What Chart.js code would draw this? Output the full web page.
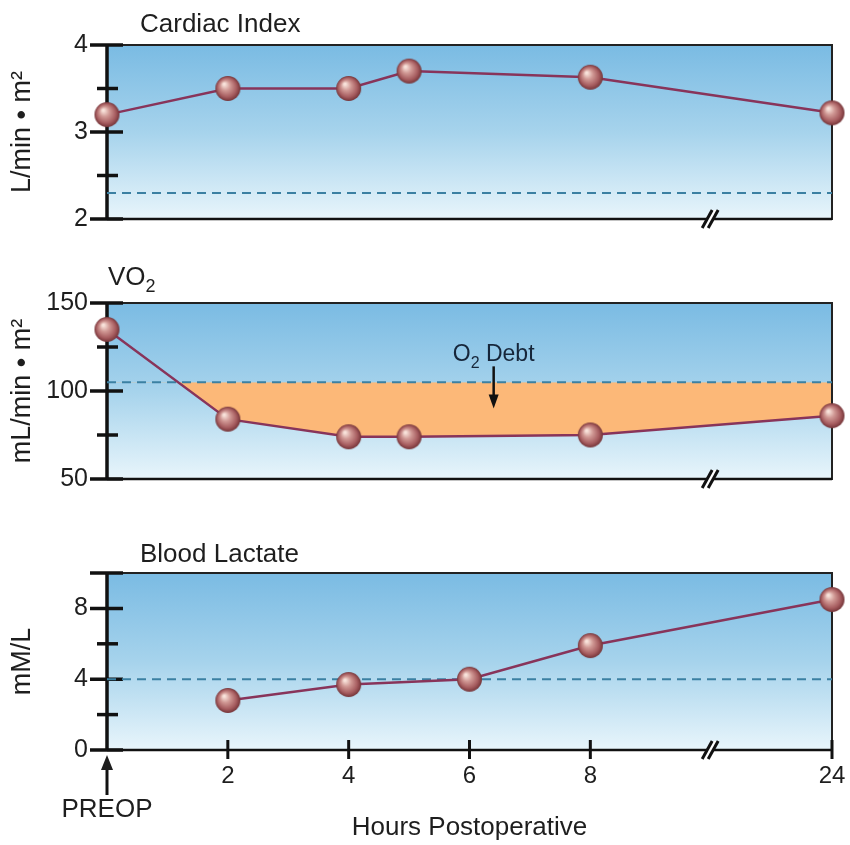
<!DOCTYPE html>
<html lang="en">

<head>
  <meta charset="UTF-8" />
  <title>Postoperative Cardiac Index, VO2 and Lactate</title>
  <script src="https://cdn.jsdelivr.net/npm/chart.js"></script>
  <style>
    html,
    body {
      margin: 0;
      padding: 0;
      background: #fff;
    }

    #wrap {
      position: relative;
      width: 850px;
      height: 845px;
    }

    #wrap canvas {
      position: absolute;
      left: 0;
    }
  </style>
</head>

<body>
  <div id="wrap">
    <canvas id="ciChart" width="850" height="245" style="top:0"></canvas>
    <canvas id="vo2Chart" width="850" height="270" style="top:245px"></canvas>
    <canvas id="lacChart" width="850" height="330" style="top:515px"></canvas>
  </div>

  <script>
    // hours after surgery (0 = preop)
    const ciHours = [0, 2, 4, 5, 8, 24];
    const cardiacIndex = [3.2, 3.5, 3.5, 3.7, 3.63, 3.22];
    const ciNormal = 2.3;

    const vo2Hours = [0, 2, 4, 5, 8, 24];
    const vo2 = [135, 84, 74, 74, 75, 86];
    const vo2Normal = 105;

    const lacHours = [2, 4, 6, 8, 24];
    const lactate = [2.8, 3.7, 4.0, 5.9, 8.5];
    const lacNormal = 4;

    const xTickHours = [2, 4, 6, 8, 24];

    const ciTicks = [2, 3, 4], ciMinor = [2.5, 3.5];
    const vo2Ticks = [50, 100, 150], vo2Minor = [75, 125];
    const lacTicks = [0, 4, 8], lacMinor = [2, 6], lacTop = 10;

    // axis is broken after 8 h, so 24 h sits 4 units further on
    const axisPos = h => (h > 8 ? 12 : h);
    const breakPos = 10;

    const FONT = "'Liberation Sans', Arial, Helvetica, sans-serif";
    const INK = '#1e1e1e';
    Chart.defaults.font.family = FONT;
    Chart.defaults.color = INK;

    // shaded ball used as point marker
    function makeBall(r) {
      const c = document.createElement('canvas');
      c.width = c.height = Math.ceil(r * 2) + 2;
      const g = c.getContext('2d');
      const m = c.width / 2;
      const grad = g.createRadialGradient(m - r * 0.3, m - r * 0.35, r * 0.08, m, m, r);
      grad.addColorStop(0, '#f8e2da');
      grad.addColorStop(0.35, '#d09894');
      grad.addColorStop(0.75, '#a65c5f');
      grad.addColorStop(1, '#743438');
      g.fillStyle = grad;
      g.beginPath();
      g.arc(m, m, r, 0, Math.PI * 2);
      g.fill();
      return c;
    }
    const ball = makeBall(12.5);

    function line(ctx, x1, y1, x2, y2) {
      ctx.beginPath();
      ctx.moveTo(x1, y1);
      ctx.lineTo(x2, y2);
      ctx.stroke();
    }

    // text runs like [['V'], ['O'], ['2', 'sub']]
    function drawRuns(ctx, runs, x, y, size, align) {
      let total = 0;
      const sized = runs.map(([t, kind]) => {
        const s = kind ? Math.round(size * 0.7) : size;
        ctx.font = s + 'px ' + FONT;
        const w = ctx.measureText(t).width;
        total += w;
        return { t, kind, s, w };
      });
      let cx = align === 'center' ? x - total / 2 : x;
      ctx.textAlign = 'left';
      ctx.textBaseline = 'alphabetic';
      sized.forEach(r => {
        ctx.font = r.s + 'px ' + FONT;
        ctx.fillText(r.t, cx, r.kind === 'sub' ? y + size * 0.28 : y);
        cx += r.w;
      });
    }

    function panelPlugin(cfg) {
      return {
        id: 'panel',
        beforeDraw(chart) {
          const { ctx, chartArea: a } = chart;
          ctx.save();
          const g = ctx.createLinearGradient(0, a.top, 0, a.bottom);
          g.addColorStop(0, '#7abbe3');
          g.addColorStop(0.5, '#a6d3ec');
          g.addColorStop(1, '#e8f5fb');
          ctx.fillStyle = g;
          ctx.fillRect(a.left, a.top, a.right - a.left, a.bottom - a.top);

          ctx.fillStyle = INK;
          drawRuns(ctx, cfg.title, cfg.titleX, a.top - cfg.titleGap, 26);
          ctx.restore();
        },
        beforeDatasetsDraw(chart) {
          const { ctx, chartArea: a, scales: { x, y } } = chart;
          ctx.save();
          ctx.strokeStyle = '#222';
          ctx.lineWidth = 2;
          ctx.strokeRect(a.left, a.top, a.right - a.left, a.bottom - a.top);
          ctx.strokeStyle = '#111';
          ctx.lineWidth = 2.5;
          line(ctx, a.left, a.bottom, a.right, a.bottom);
          ctx.lineWidth = 3.5;
          line(ctx, a.left, a.top, a.left, a.bottom);

          cfg.majors.forEach(v => {
            const py = y.getPixelForValue(v);
            line(ctx, a.left - 17, py, a.left + 16, py);
          });
          cfg.minors.forEach(v => {
            const py = y.getPixelForValue(v);
            line(ctx, a.left - 10, py, a.left + 11, py);
          });

          // axis break mark
          const bx = x.getPixelForValue(breakPos), by = a.bottom;
          ctx.fillStyle = '#fff';
          ctx.beginPath();
          ctx.moveTo(bx - 8, by + 9);
          ctx.lineTo(bx + 2, by - 9);
          ctx.lineTo(bx + 7, by - 9);
          ctx.lineTo(bx - 3, by + 9);
          ctx.closePath();
          ctx.fill();
          ctx.lineWidth = 3;
          line(ctx, bx - 9, by + 9, bx + 1, by - 9);
          line(ctx, bx - 3, by + 9, bx + 7, by - 9);

          if (cfg.showX) {
            ctx.lineWidth = 3;
            xTickHours.forEach(h => {
              const px = x.getPixelForValue(axisPos(h));
              line(ctx, px, a.bottom - 10, px, a.bottom + 9);
            });
            // PREOP arrow
            const px = x.getPixelForValue(0);
            line(ctx, px, a.bottom + 45, px, a.bottom + 16);
            ctx.fillStyle = INK;
            ctx.beginPath();
            ctx.moveTo(px, a.bottom + 5);
            ctx.lineTo(px - 6, a.bottom + 20);
            ctx.lineTo(px + 6, a.bottom + 20);
            ctx.closePath();
            ctx.fill();
            drawRuns(ctx, [['PREOP']], px, a.bottom + 67, 26, 'center');
          }
          ctx.restore();
        },
        afterDatasetsDraw(chart) {
          if (!cfg.debtNote) return;
          const { ctx, scales: { x, y } } = chart;
          const n = cfg.debtNote;
          const px = x.getPixelForValue(n.x);
          ctx.save();
          ctx.fillStyle = '#16263a';
          ctx.strokeStyle = '#111';
          drawRuns(ctx, [['O'], ['2', 'sub'], [' Debt']], px, y.getPixelForValue(n.textY), 23, 'center');
          const y1 = y.getPixelForValue(n.from), y2 = y.getPixelForValue(n.to);
          ctx.lineWidth = 2.5;
          line(ctx, px, y1, px, y2 - 10);
          ctx.fillStyle = '#111';
          ctx.beginPath();
          ctx.moveTo(px, y2);
          ctx.lineTo(px - 5, y2 - 14);
          ctx.lineTo(px + 5, y2 - 14);
          ctx.closePath();
          ctx.fill();
          ctx.restore();
        }
      };
    }

    function makeChart(id, cfg) {
      const main = {
        data: cfg.hours.map((h, i) => ({ x: axisPos(h), y: cfg.values[i] })),
        borderColor: '#88345a',
        borderWidth: 2.5,
        pointStyle: ball,
        pointRadius: 12.5,
        pointHoverRadius: 12.5,
        clip: false,
        fill: cfg.debtNote
          ? { target: { value: cfg.normal }, above: 'rgba(0,0,0,0)', below: '#fcb878' }
          : false
      };
      const normal = {
        data: [{ x: 0, y: cfg.normal }, { x: 12, y: cfg.normal }],
        borderColor: '#3b80a2',
        borderWidth: 2,
        borderDash: [9, 6],
        pointRadius: 0,
        fill: false
      };

      return new Chart(document.getElementById(id), {
        type: 'line',
        data: { datasets: [main, normal] },
        options: {
          responsive: false,
          animation: false,
          events: [],
          layout: { padding: { top: cfg.padTop, right: 18, bottom: cfg.padBottom, left: 0 } },
          plugins: {
            legend: { display: false },
            tooltip: { enabled: false },
            filler: { drawTime: 'beforeDatasetsDraw' }
          },
          scales: {
            x: {
              type: 'linear',
              min: 0,
              max: 12,
              display: cfg.showX,
              afterFit: s => {
                if (cfg.showX) s.height = 95;
                s.paddingLeft = s.paddingRight = 0;
              },
              afterBuildTicks: s => { s.ticks = xTickHours.map(h => ({ value: axisPos(h) })); },
              grid: { display: false, drawTicks: false },
              border: { display: false },
              ticks: {
                autoSkip: false,
                maxRotation: 0,
                padding: 12,
                font: { size: 24 },
                callback: (v, i) => String(xTickHours[i])
              },
              title: {
                display: true,
                text: 'Hours Postoperative',
                font: { size: 26 },
                padding: { top: 0, bottom: 2 }
              }
            },
            y: {
              min: cfg.min,
              max: cfg.max,
              afterFit: s => {
                s.width = 107;
                s.paddingTop = s.paddingBottom = 0;
              },
              afterBuildTicks: s => { s.ticks = cfg.labelTicks.map(v => ({ value: v })); },
              grid: { display: false, drawTicks: false },
              border: { display: false },
              ticks: { padding: 19, font: { size: 25 } },
              title: {
                display: true,
                text: cfg.yTitle,
                font: { size: 27 },
                padding: { top: 6, bottom: 0 }
              }
            }
          }
        },
        plugins: [panelPlugin(cfg)]
      });
    }

    makeChart('ciChart', {
      hours: ciHours, values: cardiacIndex, normal: ciNormal,
      min: 2, max: 4, labelTicks: ciTicks, majors: ciTicks, minors: ciMinor,
      yTitle: 'L/min • m²', title: [['Cardiac Index']], titleX: 140, titleGap: 13,
      padTop: 45, padBottom: 26, showX: false
    });

    makeChart('vo2Chart', {
      hours: vo2Hours, values: vo2, normal: vo2Normal,
      min: 50, max: 150, labelTicks: vo2Ticks, majors: vo2Ticks, minors: vo2Minor,
      yTitle: 'mL/min • m²', title: [['V'], ['O'], ['2', 'sub']], titleX: 108, titleGap: 18,
      padTop: 58, padBottom: 36, showX: false,
      debtNote: { x: 6.4, textY: 117, from: 114, to: 90 }
    });

    makeChart('lacChart', {
      hours: lacHours, values: lactate, normal: lacNormal,
      min: 0, max: 10, labelTicks: lacTicks, majors: lacTicks.concat([lacTop]), minors: lacMinor,
      yTitle: 'mM/L', title: [['Blood Lactate']], titleX: 140, titleGap: 11,
      padTop: 58, padBottom: 0, showX: true
    });
  </script>
</body>

</html>
